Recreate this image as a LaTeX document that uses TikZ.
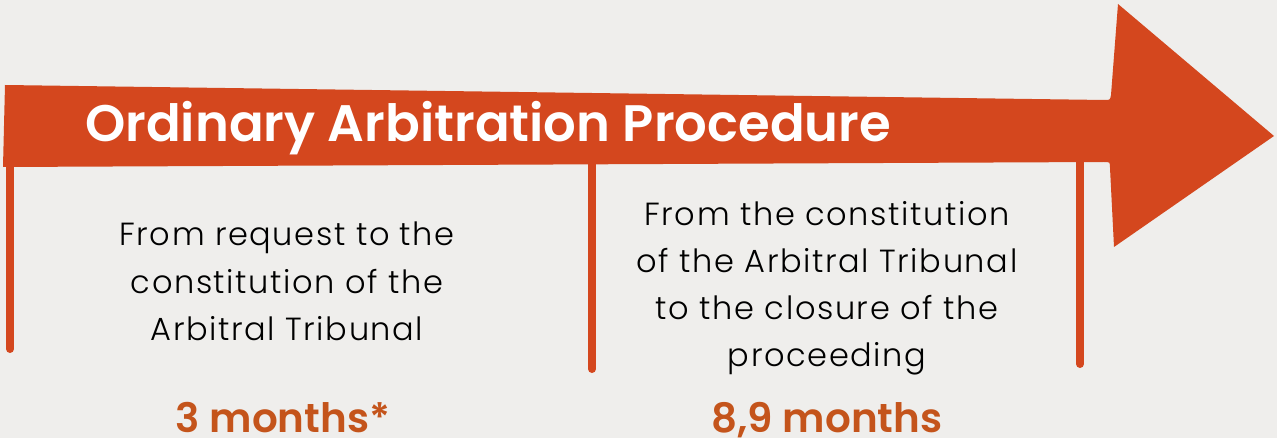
\documentclass[tikz,border=0pt]{standalone}
\usepackage{fontspec}
\setmainfont{Poppins}
\newfontfamily\bodyfont[LetterSpace=5]{Poppins Light}
\newfontfamily\boldfont{Poppins SemiBold}
\definecolor{bgcol}{HTML}{EFEEEC}
\definecolor{arrowcol}{HTML}{D4471E}
\definecolor{numcol}{HTML}{C4541B}
\begin{document}
\begin{tikzpicture}[x=1pt,y=-1pt,
  bar/.style={draw=arrowcol,line width=8pt,line cap=round},
  bodytext/.style={inner sep=0pt,align=center,text=black,font={\bodyfont\fontsize{32}{47}\selectfont}},
  numtext/.style={inner sep=0pt,anchor=base,text=numcol,font={\boldfont\fontsize{40.5}{48}\selectfont}},
  titletext/.style={inner sep=0pt,anchor=base west,text=white,font={\boldfont\fontsize{51.3}{60}\selectfont}}]
\fill[bgcol] (0,0) rectangle (1277,438);
\useasboundingbox (0,0) rectangle (1277,438);
% bars
\coordinate (b1t) at (10,160); \coordinate (b1b) at (10,349);
\coordinate (b2t) at (592,160); \coordinate (b2b) at (592,369);
\coordinate (b3t) at (1080,160); \coordinate (b3b) at (1080,364);
\draw[bar] (b1t) -- (b1b);
\draw[bar] (b2t) -- (b2b);
\draw[bar] (b3t) -- (b3b);
% arrow
\fill[arrowcol] (5,85) -- (1105,100) .. controls (1110,100) .. (1111,95) -- (1118,4) -- (1274,136) -- (1114,247) -- (1110,168) .. controls (1110,162) .. (1104,162) -- (3,167) -- cycle;
\node[titletext] (title) at (85,142) {Ordinary Arbitration Procedure};
\node[bodytext,anchor=base] (left) at (287,340) {From request to the\\constitution of the\\Arbitral Tribunal};
\node[bodytext,anchor=base] (right) at (827,366) {From the constitution\\of the Arbitral Tribunal\\to the closure of the\\proceeding};
\node[numtext] (n1) at (283,432) {3 months*};
\node[numtext] (n2) at (827,432) {8,9 months};
\end{tikzpicture}
\end{document}
